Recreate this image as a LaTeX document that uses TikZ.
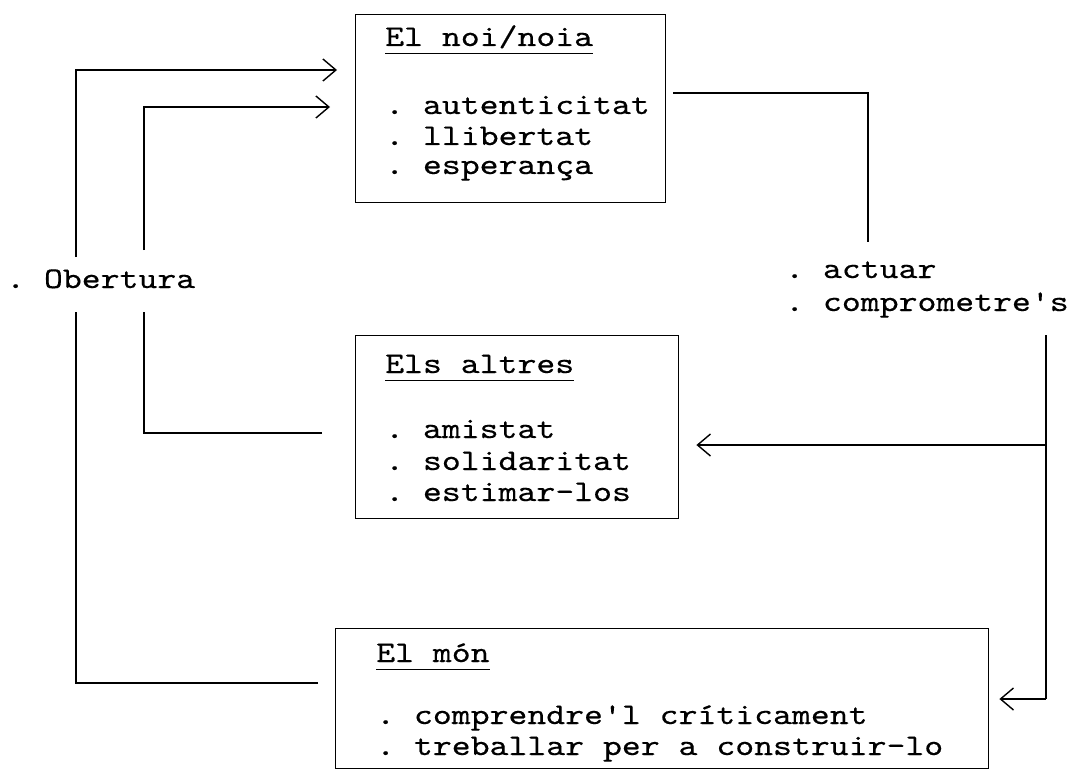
\documentclass[tikz,border=0pt]{standalone}
\usepackage{fontspec}
\setmonofont[Extension=.otf, FakeStretch=1.2, FakeBold=0.35]{lmmono10-regular}
\usetikzlibrary{arrows.meta}
\newsavebox\myulbox
\newcommand\myul[1]{\sbox\myulbox{#1}\rlap{\rule[-8pt]{\wd\myulbox}{1.1pt}}\usebox\myulbox}
\tikzset{
  ln/.style={line width=1.4pt, draw=black},
  arr/.style={ln, -{Straight Barb[length=13pt,width=22pt,line width=1.4pt]}},
  box/.style={draw=black, line width=1.4pt, inner sep=0pt, anchor=north west},
  tx/.style={anchor=base west, inner sep=0pt, text height=16pt, text depth=6pt,
    font=\ttfamily\fontsize{30}{30}\selectfont}
}
\begin{document}
\begin{tikzpicture}[x=1pt,y=-1pt]
\useasboundingbox[fill=white] (0,0) rectangle (1073,778);
% boxes
\node[box, minimum width=310pt, minimum height=188pt] (noi) at (355,14) {};
\node[box, minimum width=323pt, minimum height=183pt] (altres) at (355,335) {};
\node[box, minimum width=653pt, minimum height=140pt] (mon) at (335,628) {};
% texts
\node[tx] (noiT) at (385,46) {\myul{El noi/noia}};
\node[tx] (noi1) at (385,114) {. autenticitat};
\node[tx] (noi2) at (385,145) {. llibertat};
\node[tx] (noi3) at (385,174) {. esperança};
\node[tx] (altT) at (385,373) {\myul{Els altres}};
\node[tx] (alt1) at (385,438) {. amistat};
\node[tx] (alt2) at (385,470) {. solidaritat};
\node[tx] (alt3) at (385,501) {. estimar-los};
\node[tx] (monT) at (376,662) {\myul{El món}};
\node[tx] (mon1) at (376,724) {. comprendre'l críticament};
\node[tx] (mon2) at (376,755) {. treballar per a construir-lo};
\node[tx] (obert) at (6,288) {. Obertura};
\node[tx] (act1) at (785,278) {. actuar};
\node[tx] (act2) at (785,311) {. comprometre's};
% helper coordinates
\coordinate (y70) at (0,70);
\coordinate (y107) at (0,107);
\coordinate (y93) at (0,93);
\coordinate (y433) at (0,433);
\coordinate (y445) at (0,445);
\coordinate (y683) at (0,683);
\coordinate (y699) at (0,699);
\coordinate (oLow) at (76,312);
\coordinate (oUp) at (76,257);
\coordinate (iLow) at (144,312);
\coordinate (iUp) at (144,250);
\coordinate (rA) at (868,242);
\coordinate (rTop) at (1046,335);
\coordinate (rBot) at (1046,699);
% left connectors
\draw[ln, shorten <=17pt] (mon.west |- y683) -| (oLow);
\draw[arr, shorten >=18pt] (oUp) |- (noi.west |- y70);
\draw[ln, shorten <=33pt] (altres.west |- y433) -| (iLow);
\draw[arr, shorten >=25pt] (iUp) |- (noi.west |- y107);
% right connectors
\draw[ln, shorten <=7pt] (noi.east |- y93) -| (rA);
\draw[ln] (rTop) -- (rBot);
\draw[arr, shorten >=17pt] (rTop |- y445) -- (altres.east |- y445);
\draw[arr, shorten >=10pt] (rBot) -- (mon.east |- y699);
\end{tikzpicture}
\end{document}
